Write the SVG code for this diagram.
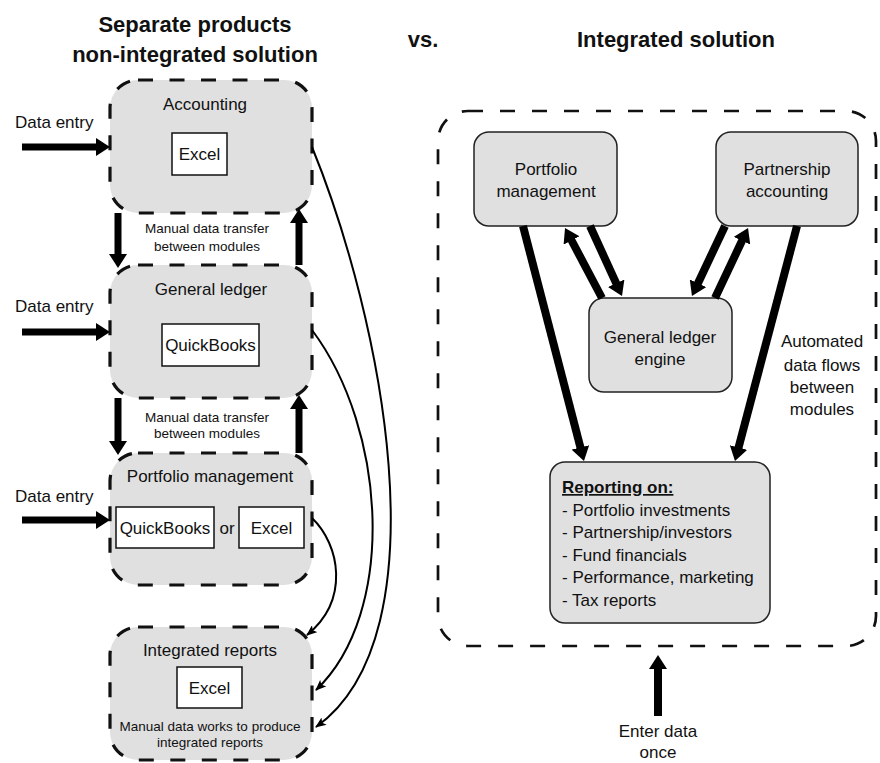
<svg xmlns="http://www.w3.org/2000/svg" width="880" height="763" viewBox="0 0 880 763">
  <style>
    text { font-family: "Liberation Sans", Arial, sans-serif; fill: #111; }
    .title { font-size: 22px; font-weight: bold; text-anchor: middle; }
    .lbl { font-size: 17px; text-anchor: middle; }
    .small { font-size: 13.5px; text-anchor: middle; }
    .side { font-size: 17px; }
    .module { fill: #e0e0e0; stroke: #111; stroke-width: 3.2; stroke-dasharray: 15 16.5; }
    .tool { fill: #fff; stroke: #111; stroke-width: 1.5; }
    .engine { fill: #e0e0e0; stroke: #222; stroke-width: 1.5; }
    .frame { fill: none; stroke: #111; stroke-width: 2.7; stroke-dasharray: 15 17; }
    .thick { fill: none; stroke: #000; stroke-width: 7; marker-end: url(#bigHead); }
    .thicker { fill: none; stroke: #000; stroke-width: 8; marker-end: url(#bigHead); }
    .thin { fill: none; stroke: #000; stroke-width: 2; marker-end: url(#smallHead); }
  </style>
  <defs>
    <marker id="bigHead" markerUnits="userSpaceOnUse" viewBox="0 0 14 18" markerWidth="14" markerHeight="18" refX="1" refY="9" orient="auto">
      <path d="M0,0 L14,9 L0,18 z" fill="#000"/>
    </marker>
    <marker id="smallHead" markerUnits="userSpaceOnUse" viewBox="0 0 11 9" markerWidth="11" markerHeight="9" refX="10" refY="4.5" orient="auto">
      <path d="M0,0 L11,4.5 L0,9 L2.5,4.5 z" fill="#000"/>
    </marker>
  </defs>

  <!-- headings -->
  <g id="headings">
    <text class="title" x="195" y="32">Separate products</text>
    <text class="title" x="195" y="62">non-integrated solution</text>
    <text class="title" x="423" y="47">vs.</text>
    <text class="title" x="676" y="47">Integrated solution</text>
  </g>

  <!-- left column: separate modules -->
  <g id="accounting">
    <rect class="module" x="110" y="80" width="202" height="133" rx="28"/>
    <text class="lbl" x="205" y="110">Accounting</text>
    <rect class="tool" x="172" y="133" width="55" height="42"/>
    <text class="lbl" x="199.5" y="160">Excel</text>
  </g>
  <g id="general-ledger">
    <rect class="module" x="110" y="265" width="202" height="133" rx="28"/>
    <text class="lbl" x="211" y="295">General ledger</text>
    <rect class="tool" x="162" y="324" width="97" height="42"/>
    <text class="lbl" x="210.5" y="351">QuickBooks</text>
  </g>
  <g id="portfolio-management">
    <rect class="module" x="110" y="453" width="202" height="132" rx="28"/>
    <text class="lbl" x="210" y="482">Portfolio management</text>
    <rect class="tool" x="116" y="507" width="98" height="41"/>
    <text class="lbl" x="165" y="534">QuickBooks</text>
    <text class="lbl" x="227" y="534">or</text>
    <rect class="tool" x="239" y="507" width="65" height="41"/>
    <text class="lbl" x="271.5" y="534">Excel</text>
  </g>
  <g id="integrated-reports">
    <rect class="module" x="110" y="627" width="202" height="133" rx="28"/>
    <text class="lbl" x="210" y="656">Integrated reports</text>
    <rect class="tool" x="177" y="667" width="65" height="41"/>
    <text class="lbl" x="209.5" y="694">Excel</text>
    <text class="small" x="210" y="731">Manual data works to produce</text>
    <text class="small" x="210" y="747">integrated reports</text>
  </g>

  <!-- left column labels -->
  <g id="left-labels">
    <text class="side" x="15" y="128">Data entry</text>
    <text class="side" x="15" y="312">Data entry</text>
    <text class="side" x="15" y="502">Data entry</text>
    <text class="small" x="207" y="233">Manual data transfer</text>
    <text class="small" x="207" y="251">between modules</text>
    <text class="small" x="207" y="422">Manual data transfer</text>
    <text class="small" x="207" y="438">between modules</text>
  </g>

  <!-- right column: integrated system -->
  <g id="system-frame">
    <rect class="frame" x="438" y="111" width="438" height="535" rx="30"/>
  </g>
  <g id="portfolio-module">
    <rect class="engine" x="474" y="132" width="143" height="94" rx="15"/>
    <text class="lbl" x="546" y="175">Portfolio</text>
    <text class="lbl" x="546" y="197">management</text>
  </g>
  <g id="partnership-module">
    <rect class="engine" x="716" y="132" width="142" height="94" rx="15"/>
    <text class="lbl" x="787" y="175">Partnership</text>
    <text class="lbl" x="787" y="197">accounting</text>
  </g>
  <g id="gl-engine">
    <rect class="engine" x="589" y="298" width="143" height="94" rx="15"/>
    <text class="lbl" x="660" y="343">General ledger</text>
    <text class="lbl" x="660" y="365">engine</text>
  </g>
  <g id="reporting">
    <rect class="engine" x="550" y="462" width="220" height="161" rx="15"/>
    <text class="side" x="562" y="493" font-weight="bold" text-decoration="underline">Reporting on:</text>
    <text class="side" x="562" y="516">- Portfolio investments</text>
    <text class="side" x="562" y="538">- Partnership/investors</text>
    <text class="side" x="562" y="561">- Fund financials</text>
    <text class="side" x="562" y="583">- Performance, marketing</text>
    <text class="side" x="562" y="606">- Tax reports</text>
  </g>
  <g id="right-labels">
    <text class="lbl" x="822" y="347">Automated</text>
    <text class="lbl" x="822" y="371">data flows</text>
    <text class="lbl" x="822" y="393">between</text>
    <text class="lbl" x="822" y="415">modules</text>
    <text class="lbl" x="658" y="737">Enter data</text>
    <text class="lbl" x="658" y="758">once</text>
  </g>

  <!-- connectors -->
  <g id="connectors">
    <!-- data entry inputs -->
    <path class="thick" d="M22,147 H97"/>
    <path class="thick" d="M22,332 H97"/>
    <path class="thick" d="M22,520 H97"/>
    <!-- manual transfers between modules -->
    <path class="thick" d="M118,213 V255"/>
    <path class="thick" d="M299,265 V222"/>
    <path class="thick" d="M118,398 V442"/>
    <path class="thick" d="M299,453 V408"/>
    <!-- feeds into integrated reports -->
    <path class="thin" d="M312,147 C381,316 446,634 316,727"/>
    <path class="thin" d="M312,330 C387,430 397,613 316,690"/>
    <path class="thin" d="M312,518 C340,545 350,600 307,635"/>
    <!-- automated flows -->
    <path class="thicker" d="M523,226 L580.7,448.4"/>
    <path class="thicker" d="M797,226 L738.3,448.4"/>
    <path class="thicker" d="M590,226 L616.6,284.2"/>
    <path class="thicker" d="M602,298 L571.1,239.5"/>
    <path class="thicker" d="M725,226 L697.5,284.2"/>
    <path class="thicker" d="M715,298 L742.5,239.8"/>
    <path class="thicker" d="M658,716 V668"/>
  </g>
</svg>
